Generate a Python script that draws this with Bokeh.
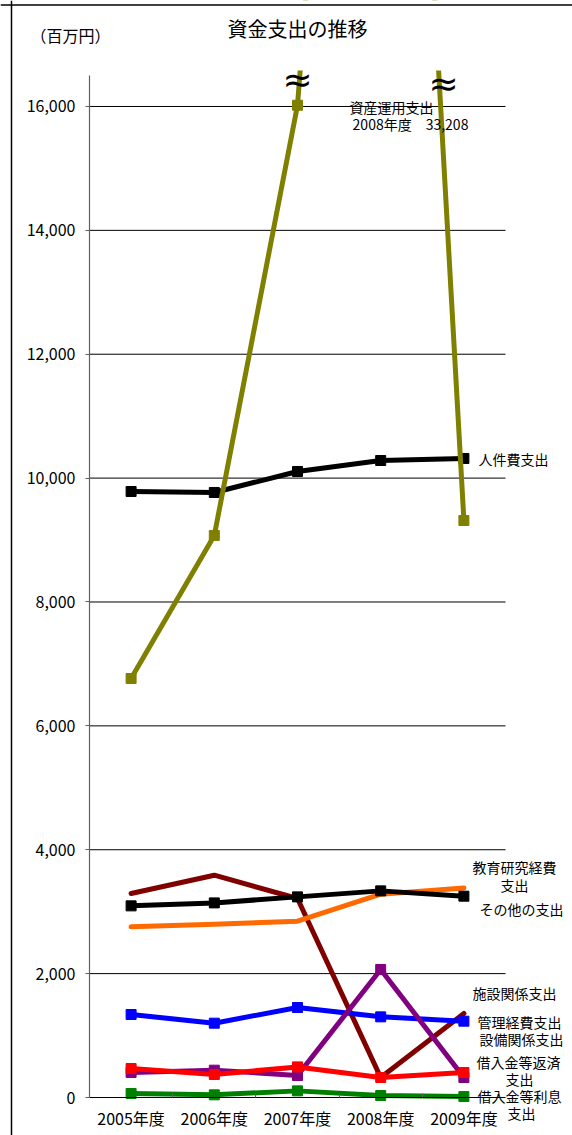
from bokeh.plotting import figure
from bokeh.models import Range1d, FixedTicker, NumeralTickFormatter, Label, BoxAnnotation, Span
from bokeh.embed import file_html
from bokeh.resources import INLINE

FONT = "Noto Sans CJK JP"

years = ["2005年度", "2006年度", "2007年度", "2008年度", "2009年度"]
y_ticks = [0, 2000, 4000, 6000, 8000, 10000, 12000, 14000, 16000]

asset_mgmt = [6765, 9074, 16020, 33208, 9316]      # 資産運用支出
personnel = [9784, 9768, 10107, 10284, 10317]      # 人件費支出
other_exp = [3094, 3142, 3239, 3336, 3250]         # その他の支出
edu_research = [2755, 2798, 2847, 3282, 3384]      # 教育研究経費支出
facility = [3294, 3589, 3213, 323, 1356]           # 施設関係支出
admin = [1340, 1200, 1453, 1302, 1232]             # 管理経費支出
equipment = [404, 441, 355, 2067, 323]             # 設備関係支出
loan_repay = [468, 371, 494, 323, 404]             # 借入金等返済支出
loan_interest = [65, 43, 107, 32, 15]              # 借入金等利息支出

xs = list(range(len(years)))
Y_TOP = 16500

# ---- layout (picture pixels) ----
W, H = 572, 1135
PL, PR, PT, PB = 89, 505, 75, 1097      # plot area edges
sx = (PR - PL) / len(years)            # px per category
sy = (PB - PT) / Y_TOP                 # px per unit

x0 = -0.5 - PL / sx
x1 = 4.5 + (W - PR) / sx
y0 = -(H - PB) / sy
y1 = Y_TOP + PT / sy

def X(px):
    return -0.5 + (px - PL) / sx

def Y(py):
    return (PB - py) / sy

p = figure(width=W, height=H, output_backend="svg", toolbar_location=None,
           x_range=Range1d(x0, x1), y_range=Range1d(y0, y1),
           min_border_left=0, min_border_right=0, min_border_top=0, min_border_bottom=0)
p.outline_line_color = None
p.background_fill_color = "white"
p.border_fill_color = "white"
p.xgrid.grid_line_color = None
p.ygrid.grid_line_color = None

# horizontal gridlines, limited to the plot area
p.segment(x0=[-0.5] * (len(y_ticks) - 1), x1=[4.5] * (len(y_ticks) - 1),
          y0=y_ticks[1:], y1=y_ticks[1:], line_color="black", line_width=1)

yax = p.yaxis[0]
yax.fixed_location = -0.5
yax.bounds = (0, Y_TOP)
yax.ticker = FixedTicker(ticks=y_ticks)
yax.formatter = NumeralTickFormatter(format="0,0")
yax.major_label_text_font = FONT
yax.major_label_text_font_size = "16px"
yax.major_label_text_color = "black"
yax.axis_line_color = "#606060"
yax.axis_line_width = 1.2
yax.major_tick_line_color = "#606060"
yax.major_tick_out = 4
yax.major_tick_in = 0
yax.minor_tick_line_color = None
yax.major_label_standoff = 10

xax = p.xaxis[0]
xax.fixed_location = 0
xax.bounds = (-0.5, 4.5)
xax.ticker = FixedTicker(ticks=xs, minor_ticks=[0.5, 1.5, 2.5, 3.5])
xax.major_label_overrides = {i: years[i] for i in xs}
xax.major_label_text_font = FONT
xax.major_label_text_font_size = "16px"
xax.major_label_text_color = "black"
xax.axis_line_color = "black"
xax.axis_line_width = 1.2
xax.major_tick_line_color = None
xax.major_tick_out = 0
xax.major_tick_in = 0
xax.minor_tick_line_color = "#606060"
xax.minor_tick_in = 4
xax.minor_tick_out = 0
xax.major_label_standoff = 8

LW = 5
MS = 10

def series(vals, color, markers=True):
    p.line(xs, vals, line_color=color, line_width=LW, line_join="round", line_cap="round")
    if markers:
        p.scatter(xs, vals, marker="square", size=MS, fill_color=color, line_color=color)

series(facility, "#800000", markers=False)
series(edu_research, "#FF6A00", markers=False)
series(other_exp, "black")
series(admin, "#0000FF")
series(equipment, "#800080")
series(loan_repay, "#FF0000")
series(loan_interest, "#008000")
series(personnel, "black")
series(asset_mgmt, "#808000")

# mask above the plot area (the broken olive line ends just above the frame)
p.add_layout(BoxAnnotation(bottom=Y(70), top=Y(-40), left=X(-40), right=X(W + 40),
                           fill_color="white", fill_alpha=1.0,
                           line_color=None, level="annotation"))

# outer frame lines of the original chart box
p.add_layout(Span(location=X(11), dimension="height", line_color="black", line_width=1.5))
p.add_layout(Span(location=Y(4.5), dimension="width", line_color="black", line_width=1.5))

def lab(text, px, py, size="14px", align="center", font=FONT):
    p.add_layout(Label(x=X(px), y=Y(py), text=text, text_font=font, text_font_size=size,
                       text_align=align, text_baseline="middle", text_color="black"))

lab("資金支出の推移", 297, 28, size="20px")
lab("（百万円）", 30, 34, size="16px", align="left")
lab("資産運用支出", 391, 106)
lab("2008年度　33,208", 410, 123)
lab("人件費支出", 478, 458, align="left")
lab("教育研究経費", 514, 866)
lab("支出", 514, 884)
lab("その他の支出", 521, 908)
lab("施設関係支出", 514, 992)
lab("管理経費支出", 519, 1021)
lab("設備関係支出", 521, 1038)
lab("借入金等返済", 518, 1061)
lab("支出", 519, 1078)
lab("借入金等利息", 519, 1095)
lab("支出", 521, 1112)

lab("≈", 297, 79, size="36px", font="DejaVu Sans")
lab("≈", 443, 83, size="36px", font="DejaVu Sans")

open("out.html", "w").write(file_html(p, INLINE))
